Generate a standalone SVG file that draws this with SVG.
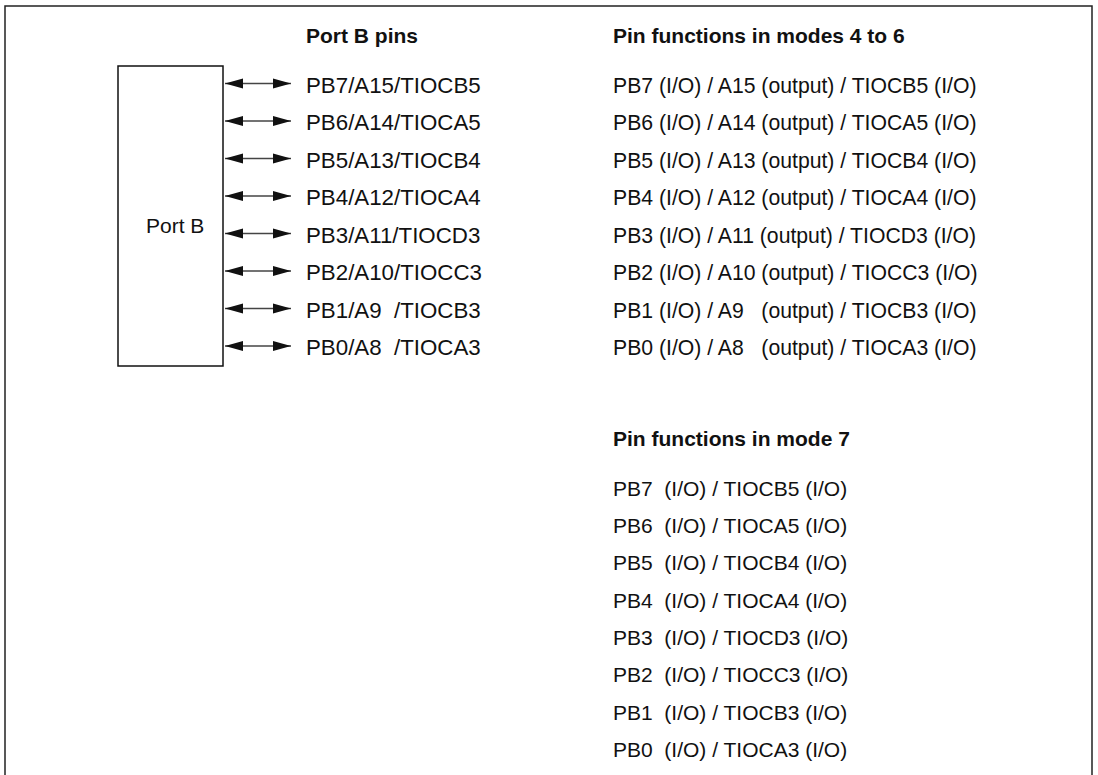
<svg xmlns="http://www.w3.org/2000/svg" width="1098" height="775" viewBox="0 0 1098 775">
<style>
.t{font-family:"Liberation Sans",Arial,sans-serif;font-size:21.2px;fill:#111;white-space:pre}
.l{font-size:22.3px}
.m{font-size:21px}
.h{font-family:"Liberation Sans",Arial,sans-serif;font-size:21px;font-weight:bold;fill:#111}
.c{stroke:#444;stroke-width:1.3;fill:none;marker-start:url(#ah);marker-end:url(#ah)}
</style>
<defs>
<marker id="ah" viewBox="0 0 18 11" refX="18" refY="5.5" markerWidth="18" markerHeight="11" markerUnits="userSpaceOnUse" orient="auto-start-reverse">
<path d="M0,0.5 L18,5.5 L0,10.5 z" fill="#111"/>
</marker>
</defs>
<rect x="0" y="0" width="1098" height="775" fill="#fff"/>
<path d="M5,775 V6 H1092 V775" fill="none" stroke="#222" stroke-width="1.5"/>
<g id="portB">
<rect x="118" y="66" width="105" height="300" fill="#fff" stroke="#111" stroke-width="1.5"/>
<text class="t m" x="146" y="232.5">Port B</text>
</g>
<g id="connectors">
<line class="c" x1="225" y1="83.5" x2="291" y2="83.5"/>
<line class="c" x1="225" y1="121" x2="291" y2="121"/>
<line class="c" x1="225" y1="158.5" x2="291" y2="158.5"/>
<line class="c" x1="225" y1="196" x2="291" y2="196"/>
<line class="c" x1="225" y1="233.5" x2="291" y2="233.5"/>
<line class="c" x1="225" y1="271" x2="291" y2="271"/>
<line class="c" x1="225" y1="308.5" x2="291" y2="308.5"/>
<line class="c" x1="225" y1="346" x2="291" y2="346"/>
</g>
<g id="pins">
<text class="h" x="306" y="43">Port B pins</text>
<text class="t l" x="306" y="92.7">PB7/A15/TIOCB5</text>
<text class="t l" x="306" y="130.2">PB6/A14/TIOCA5</text>
<text class="t l" x="306" y="167.7">PB5/A13/TIOCB4</text>
<text class="t l" x="306" y="205.2">PB4/A12/TIOCA4</text>
<text class="t l" x="306" y="242.7">PB3/A11/TIOCD3</text>
<text class="t l" x="306" y="280.2">PB2/A10/TIOCC3</text>
<text class="t l" x="306" y="317.7">PB1/A9  /TIOCB3</text>
<text class="t l" x="306" y="355.2">PB0/A8  /TIOCA3</text>
</g>
<g id="modes4to6">
<text class="h" x="613" y="43">Pin functions in modes 4 to 6</text>
<text class="t" x="613" y="92.7">PB7 (I/O) / A15 (output) / TIOCB5 (I/O)</text>
<text class="t" x="613" y="130.2">PB6 (I/O) / A14 (output) / TIOCA5 (I/O)</text>
<text class="t" x="613" y="167.7">PB5 (I/O) / A13 (output) / TIOCB4 (I/O)</text>
<text class="t" x="613" y="205.2">PB4 (I/O) / A12 (output) / TIOCA4 (I/O)</text>
<text class="t" x="613" y="242.7">PB3 (I/O) / A11 (output) / TIOCD3 (I/O)</text>
<text class="t" x="613" y="280.2">PB2 (I/O) / A10 (output) / TIOCC3 (I/O)</text>
<text class="t" x="613" y="317.7">PB1 (I/O) / A9   (output) / TIOCB3 (I/O)</text>
<text class="t" x="613" y="355.2">PB0 (I/O) / A8   (output) / TIOCA3 (I/O)</text>
</g>
<g id="mode7">
<text class="h" x="613" y="446">Pin functions in mode 7</text>
<text class="t m" x="613" y="495.8">PB7  (I/O) / TIOCB5 (I/O)</text>
<text class="t m" x="613" y="533.1">PB6  (I/O) / TIOCA5 (I/O)</text>
<text class="t m" x="613" y="570.4">PB5  (I/O) / TIOCB4 (I/O)</text>
<text class="t m" x="613" y="607.7">PB4  (I/O) / TIOCA4 (I/O)</text>
<text class="t m" x="613" y="645">PB3  (I/O) / TIOCD3 (I/O)</text>
<text class="t m" x="613" y="682.3">PB2  (I/O) / TIOCC3 (I/O)</text>
<text class="t m" x="613" y="719.6">PB1  (I/O) / TIOCB3 (I/O)</text>
<text class="t m" x="613" y="756.9">PB0  (I/O) / TIOCA3 (I/O)</text>
</g>
</svg>
